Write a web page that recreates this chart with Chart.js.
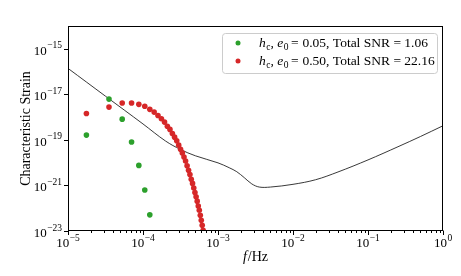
<!DOCTYPE html>
<html>
<head>
<meta charset="utf-8">
<script src="https://cdn.jsdelivr.net/npm/chart.js@4.4.1/dist/chart.umd.min.js"></script>
<style>
  html, body { margin: 0; padding: 0; background: #fff; }
  #chart-container { width: 461px; height: 276px; }
</style>
</head>
<body>
<div id="chart-container"><canvas id="c" width="461" height="276"></canvas></div>
<script>
// harmonics for e0 = 0.05
const lowEccFreq = [1.76e-5, 3.52e-5, 5.28e-5, 7.04e-5, 8.80e-5, 1.056e-4, 1.232e-4];
const lowEccStrain = [1.62e-19, 6.17e-18, 8.13e-19, 8.13e-20, 7.59e-21, 6.31e-22, 5.13e-23];

// harmonics for e0 = 0.50
const highEccFreq = [
  1.76e-5, 3.52e-5, 5.28e-5, 7.04e-5, 8.80e-5, 1.056e-4, 1.232e-4, 1.408e-4, 1.584e-4, 1.76e-4,
  1.936e-4, 2.112e-4, 2.288e-4, 2.464e-4, 2.64e-4, 2.816e-4, 2.992e-4, 3.168e-4, 3.344e-4, 3.52e-4,
  3.696e-4, 3.872e-4, 4.048e-4, 4.224e-4, 4.40e-4, 4.576e-4, 4.752e-4, 4.928e-4, 5.104e-4, 5.28e-4,
  5.456e-4, 5.632e-4, 5.808e-4, 5.984e-4, 6.16e-4, 6.336e-4, 6.512e-4
];
const highEccStrain = [
  1.45e-18, 2.75e-18, 4.17e-18, 4.17e-18, 3.63e-18, 3.02e-18, 2.19e-18, 1.66e-18, 1.17e-18, 8.51e-19,
  6.03e-19, 3.98e-19, 2.88e-19, 1.91e-19, 1.32e-19, 9.12e-20, 5.89e-20, 3.89e-20, 2.69e-20, 1.78e-20,
  1.17e-20, 7.24e-21, 4.68e-21, 3.02e-21, 1.86e-21, 1.23e-21, 7.76e-22, 4.90e-22, 3.16e-22, 2.04e-22,
  1.26e-22, 8.13e-23, 4.90e-23, 2.95e-23, 1.78e-23, 1.07e-23, 6.3e-24
];

// detector sensitivity curve
const sensFreq = [
  1.0e-5, 3.16e-5, 1.0e-4, 2.0e-4, 3.16e-4, 5.0e-4, 1.0e-3, 1.41e-3, 1.78e-3, 2.24e-3,
  2.82e-3, 3.55e-3, 5.0e-3, 1.0e-2, 2.0e-2, 3.98e-2, 1.0e-1, 0.251, 0.501, 1.0
];
const sensStrain = [
  1.38e-16, 8.3e-18, 5.0e-19, 8.9e-20, 3.8e-20, 2.0e-20, 9.8e-21, 6.0e-21, 4.0e-21, 2.2e-21,
  1.17e-21, 8.5e-22, 8.5e-22, 1.12e-21, 1.78e-21, 3.9e-21, 1.32e-20, 5.0e-20, 1.41e-19, 4.17e-19
];

const xTicks = [1e-5, 1e-4, 1e-3, 1e-2, 1e-1, 1e0];
const xTickExp = ["\u22125", "\u22124", "\u22123", "\u22122", "\u22121", "0"];
const yTicks = [1e-23, 1e-21, 1e-19, 1e-17, 1e-15];
const yTickExp = ["\u221223", "\u221221", "\u221219", "\u221217", "\u221215"];

const legendLabels = [
  { ecc: "0.05", snr: "1.06", color: "#2ca02c" },
  { ecc: "0.50", snr: "22.16", color: "#d62728" }
];

const SERIF = "'Liberation Serif', 'Times New Roman', serif";

function pairs(xs, ys) {
  return xs.map((x, i) => ({ x: x, y: ys[i] }));
}

// 10^n as two pieces of text
function drawPow(ctx, x, y, exp, align) {
  ctx.font = "13px " + SERIF;
  const wb = ctx.measureText("10").width;
  ctx.font = "9.5px " + SERIF;
  const we = ctx.measureText(exp).width;
  const x0 = align === "right" ? x - wb - we - 0.5 : x - (wb + we + 0.5) / 2;
  ctx.font = "13px " + SERIF;
  ctx.fillText("10", x0, y);
  ctx.font = "9.5px " + SERIF;
  ctx.fillText(exp, x0 + wb + 0.5, y - 6.5);
}

// draw text pieces one after another, returns end x
function drawRun(ctx, x, y, parts) {
  parts.forEach((p) => {
    ctx.font = p.font;
    ctx.fillText(p.t, x, y + (p.dy || 0));
    x += ctx.measureText(p.t).width + (p.gap || 0);
  });
  return x;
}

const axesPlugin = {
  id: "axesPlugin",
  afterDraw(chart) {
    const ctx = chart.ctx;
    const a = chart.chartArea;
    const xs = chart.scales.x;
    const ys = chart.scales.y;
    ctx.save();
    ctx.strokeStyle = "#000";
    ctx.fillStyle = "#000";
    ctx.lineWidth = 1;
    const L = Math.round(a.left) + 0.5, R = Math.round(a.right) - 0.5;
    const T = Math.round(a.top) + 0.5, B = Math.round(a.bottom) - 0.5;
    ctx.strokeRect(L, T, R - L, B - T);

    // x ticks, major and minor
    ctx.beginPath();
    xTicks.forEach((v, i) => {
      const px = Math.round(xs.getPixelForValue(v)) + 0.5;
      ctx.moveTo(px, B); ctx.lineTo(px, B + 4.5);
      if (i < xTicks.length - 1) {
        for (let k = 2; k <= 9; k++) {
          const mx = Math.round(xs.getPixelForValue(v * k)) + 0.5;
          ctx.moveTo(mx, B); ctx.lineTo(mx, B + 2.5);
        }
      }
    });
    yTicks.forEach((v) => {
      const py = Math.round(ys.getPixelForValue(v)) + 0.5;
      ctx.moveTo(L, py); ctx.lineTo(L - 4.5, py);
    });
    ctx.stroke();

    ctx.textBaseline = "alphabetic";
    ctx.textAlign = "left";
    xTicks.forEach((v, i) => {
      drawPow(ctx, xs.getPixelForValue(v), a.bottom + 16, xTickExp[i], "center");
    });
    yTicks.forEach((v, i) => {
      drawPow(ctx, a.left - 6, ys.getPixelForValue(v) + 6, yTickExp[i], "right");
    });

    // axis titles
    ctx.font = "italic 14px " + SERIF;
    const wf = ctx.measureText("f").width;
    ctx.font = "14px " + SERIF;
    const wh = ctx.measureText("/Hz").width;
    const cx = (a.left + a.right) / 2 - (wf + wh + 1) / 2;
    drawRun(ctx, cx, 261, [
      { t: "f", font: "italic 14px " + SERIF, gap: 1 },
      { t: "/Hz", font: "14px " + SERIF }
    ]);
    ctx.save();
    ctx.translate(26, (a.top + a.bottom) / 2);
    ctx.rotate(-Math.PI / 2);
    ctx.textAlign = "center";
    ctx.textBaseline = "middle";
    ctx.font = "14px " + SERIF;
    ctx.fillText("Characteristic Strain", 0, 0);
    ctx.restore();

    // legend
    const bx = 222.5, by = 33.5, bw = 215, bh = 40;
    ctx.beginPath();
    ctx.roundRect(bx, by, bw, bh, 3);
    ctx.fillStyle = "rgba(255,255,255,0.8)";
    ctx.fill();
    ctx.strokeStyle = "#cccccc";
    ctx.stroke();
    legendLabels.forEach((lab, i) => {
      const my = 43 + i * 18;
      ctx.fillStyle = lab.color;
      ctx.beginPath();
      ctx.arc(238, my, 2.5, 0, Math.PI * 2);
      ctx.fill();
      ctx.fillStyle = "#000";
      ctx.textAlign = "left";
      const f = "13.5px " + SERIF, fi = "italic 13.5px " + SERIF;
      const fs = "9.5px " + SERIF;
      drawRun(ctx, 259, my + 4, [
        { t: "h", font: fi, gap: 0.5 },
        { t: "c", font: fs, dy: 2.5 },
        { t: ", ", font: f },
        { t: "e", font: fi, gap: 0.5 },
        { t: "0", font: fs, dy: 2.5, gap: 2.5 },
        { t: "= ", font: f, gap: 0.5 },
        { t: lab.ecc + ", Total SNR = " + lab.snr, font: f }
      ]);
    });
    ctx.restore();
  }
};

const chart = new Chart(document.getElementById("c"), {
  type: "scatter",
  data: {
    datasets: [
      {
        label: "hc, e0 = 0.50",
        data: pairs(highEccFreq, highEccStrain),
        backgroundColor: "#d62728",
        borderWidth: 0,
        pointRadius: 2.8,
        clip: 0,
        order: 1
      },
      {
        label: "hc, e0 = 0.05",
        data: pairs(lowEccFreq, lowEccStrain),
        backgroundColor: "#2ca02c",
        borderWidth: 0,
        pointRadius: 2.8,
        clip: 0,
        order: 2
      },
      {
        label: "sensitivity",
        data: pairs(sensFreq, sensStrain),
        showLine: true,
        borderColor: "#222",
        borderWidth: 0.9,
        pointRadius: 0,
        tension: 0.35,
        clip: 0,
        order: 3
      }
    ]
  },
  options: {
    responsive: false,
    animation: false,
    events: [],
    layout: { padding: { left: 68, right: 18, top: 26, bottom: 45 } },
    plugins: { legend: { display: false }, tooltip: { enabled: false } },
    scales: {
      x: { type: "logarithmic", min: 1e-5, max: 1, display: false },
      y: { type: "logarithmic", min: 1e-23, max: 1e-14, display: false }
    }
  },
  plugins: [axesPlugin]
});
</script>
</body>
</html>
